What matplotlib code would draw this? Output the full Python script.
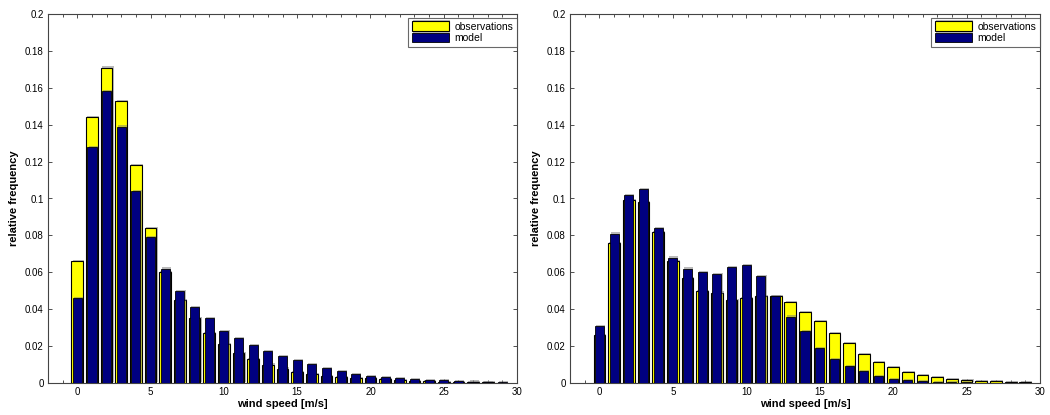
import matplotlib.pyplot as plt
import matplotlib.patheffects as pe
import numpy as np

# wind speed bins (m/s)
speed = np.arange(0, 30)

# left panel: relative frequencies
obs_left = [0.066, 0.144, 0.171, 0.153, 0.118, 0.084, 0.060, 0.045, 0.035, 0.027,
            0.021, 0.016, 0.013, 0.010, 0.0078, 0.0061, 0.0049, 0.0040, 0.0034, 0.0025,
            0.0025, 0.0020, 0.0015, 0.0011, 0.0009, 0.0007, 0.0005, 0.0004, 0.0003, 0.0002]
mod_left = [0.046, 0.128, 0.158, 0.139, 0.104, 0.079, 0.062, 0.050, 0.041, 0.035,
            0.028, 0.0246, 0.0208, 0.0172, 0.0145, 0.0125, 0.0103, 0.0083, 0.0067, 0.0050,
            0.0040, 0.0031, 0.0025, 0.0020, 0.0015, 0.0015, 0.0009, 0.0008, 0.0006, 0.0005]

# right panel
obs_right = [0.026, 0.076, 0.099, 0.098, 0.082, 0.066, 0.057, 0.050, 0.049, 0.045,
             0.046, 0.047, 0.047, 0.044, 0.0385, 0.0334, 0.027, 0.0215, 0.0157, 0.0114,
             0.0087, 0.0058, 0.0043, 0.0031, 0.0020, 0.0015, 0.0011, 0.0011, 0.0005, 0.0005]
mod_right = [0.031, 0.081, 0.102, 0.105, 0.084, 0.068, 0.062, 0.060, 0.059, 0.063,
             0.064, 0.058, 0.047, 0.036, 0.028, 0.019, 0.013, 0.009, 0.0063, 0.0040,
             0.0023, 0.0016, 0.0011, 0.0007, 0.0004, 0.0003, 0.0002, 0.0001, 0.0001, 0.0001]

yticks = [0, 0.02, 0.04, 0.06, 0.08, 0.1, 0.12, 0.14, 0.16, 0.18, 0.2]
xticks = [0, 5, 10, 15, 20, 25, 30]

plt.rcParams['font.family'] = ['Liberation Sans', 'DejaVu Sans']

fig = plt.figure(figsize=(10.5, 4.15), dpi=100)
ax1 = fig.add_axes([48 / 1050, 32 / 415, 469 / 1050, 369 / 415])
ax2 = fig.add_axes([570 / 1050, 32 / 415, 470 / 1050, 369 / 415])

# faint grey outline like the old screen capture
shadow = [pe.SimplePatchShadow(offset=(0.8, 0.8), shadow_rgbFace='#777777', alpha=0.5),
          pe.Normal()]


def draw_panel(ax, obs, mod):
    ax.bar(speed, obs, width=0.8, color='#ffff00', edgecolor='black', linewidth=0.8,
           label='observations', zorder=2, path_effects=shadow)
    ax.bar(speed, mod, width=0.62, color='#000080', edgecolor='black', linewidth=0.6,
           label='model', zorder=3, path_effects=shadow)
    ax.set_xlim(-2, 30)
    ax.set_ylim(0, 0.2)
    ax.set_xticks(xticks)
    ax.set_xticklabels([str(t) for t in xticks])
    ax.set_xticks(np.arange(-2, 31), minor=True)
    ax.set_yticks(yticks)
    ax.set_yticklabels(['%g' % t for t in yticks])
    ax.tick_params(which='both', direction='in', top=True, right=True,
                   labelsize=7, length=3, width=0.6, colors='#333333', pad=3)
    ax.tick_params(which='minor', length=2.5)
    ax.tick_params(labelcolor='black')
    ax.set_axisbelow(True)
    for s in ax.spines.values():
        s.set_linewidth(0.8)
        s.set_color('#444444')
    ax.set_xlabel('wind speed [m/s]', fontsize=8, fontweight='bold', labelpad=1)
    ax.set_ylabel('relative frequency', fontsize=8, fontweight='bold', labelpad=4)
    leg = ax.legend(loc='upper right', fontsize=7.5, frameon=True, fancybox=False,
                    handlelength=3.6, handleheight=1.0, borderpad=0.35,
                    labelspacing=0.15, handletextpad=0.5,
                    bbox_to_anchor=(1.0, 0.99), borderaxespad=0.0)
    leg.get_frame().set_edgecolor('#444444')
    leg.get_frame().set_linewidth(0.8)


draw_panel(ax1, obs_left, mod_left)
draw_panel(ax2, obs_right, mod_right)

fig.savefig('out.png', dpi=100)
